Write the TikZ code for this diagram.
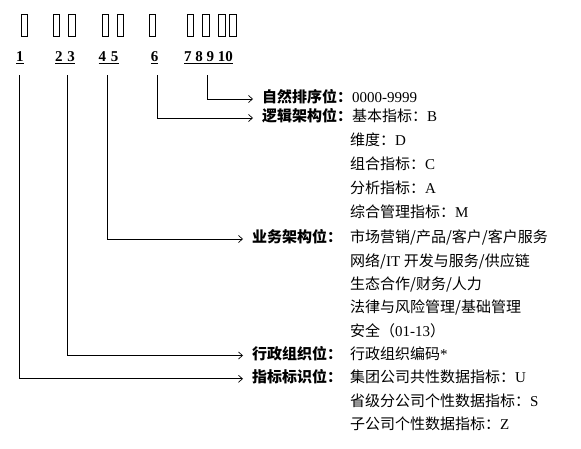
\documentclass[tikz,border=0pt]{standalone}
\usepackage{fontspec}
\setmainfont{Liberation Serif}
\newfontfamily\cjk{Noto Sans CJK SC}
\usetikzlibrary{arrows.meta}

\begin{document}
\begin{tikzpicture}[x=1pt, y=-1pt,
tofu/.style={draw, line width=0.8pt, minimum width=6.5pt, minimum height=22pt, inner sep=0pt, anchor=north west},
digit/.style={font=\fontsize{15}{18}\selectfont\bfseries, inner sep=0pt, anchor=base},
head/.style={font=\fontsize{15}{18}\selectfont\bfseries\cjk, inner sep=0pt, anchor=west, text height=11pt, text depth=3pt},
item/.style={font=\fontsize{15}{18}\selectfont, inner sep=0pt, anchor=west, text height=11pt, text depth=3pt},
link/.style={-{Straight Barb[length=4pt, width=7pt]}, line width=0.7pt, shorten >=9pt},
]
\useasboundingbox (0,0) rectangle (581,449);

\foreach \bx [count=\i] in {20.7,52.7,68.3,101.7,116.7,148.7,186.7,202.3,218,229.3}
  \node[tofu] (box\i) at (\bx,14) {};

\node[digit] (n1) at (20,62) {\underline{1}};
\node[digit] (n23) at (65,62) {\underline{2\,\,3}};
\node[digit] (n45) at (108.5,62) {\underline{4\,\,5}};
\node[digit] (n6) at (154.5,62) {\underline{6}};
\node[digit] (n710) at (208.5,62) {\underline{7 8 9 10}};

\node[head] (natural) at (262,99) {自然排序位：\normalfont\mdseries 0000-9999};

\node[head] (logic) at (262,118) {逻辑架构位：};
\node[item] (logic1) at (352,118) {{\cjk 基本指标：}B};
\node[item] (logic2) at (350,142) {{\cjk 维度：}D};
\node[item] (logic3) at (350,166) {{\cjk 组合指标：}C};
\node[item] (logic4) at (350,190) {{\cjk 分析指标：}A};
\node[item] (logic5) at (350,214) {{\cjk 综合管理指标：}M};

\node[head] (business) at (252,239) {业务架构位：};
\node[item] (business1) at (350,239) {{\cjk 市场营销/产品/客户/客户服务}};
\node[item] (business2) at (350,262.3) {{\cjk 网络/}IT {\cjk 开发与服务/供应链}};
\node[item] (business3) at (350,285.6) {{\cjk 生态合作/财务/人力}};
\node[item] (business4) at (350,308.9) {{\cjk 法律与风险管理/基础管理}};
\node[item] (business5) at (350,332.2) {{\cjk 安全（}01-13{\cjk ）}};

\node[head] (admin) at (252,355.5) {行政组织位：};
\node[item] (admin1) at (350,355.5) {{\cjk 行政组织编码}*};

\node[head] (mark) at (252,378.8) {指标标识位：};
\node[item] (mark1) at (350,378.8) {{\cjk 集团公司共性数据指标：}U};
\node[item] (mark2) at (350,402.1) {{\cjk 省级分公司个性数据指标：}S};
\node[item] (mark3) at (350,425.4) {{\cjk 子公司个性数据指标：}Z};

\draw[link] (n710.south) ++(-1.5,11) |- (natural.west);
\draw[link] (n6.south) ++(2.5,11) |- (logic.west);
\draw[link] (n45.south) ++(-1.5,11) |- (business.west);
\draw[link] (n23.south) ++(2,11) |- (admin.west);
\draw[link] (n1.south) ++(-1,11) |- (mark.west);

\end{tikzpicture}
\end{document}
